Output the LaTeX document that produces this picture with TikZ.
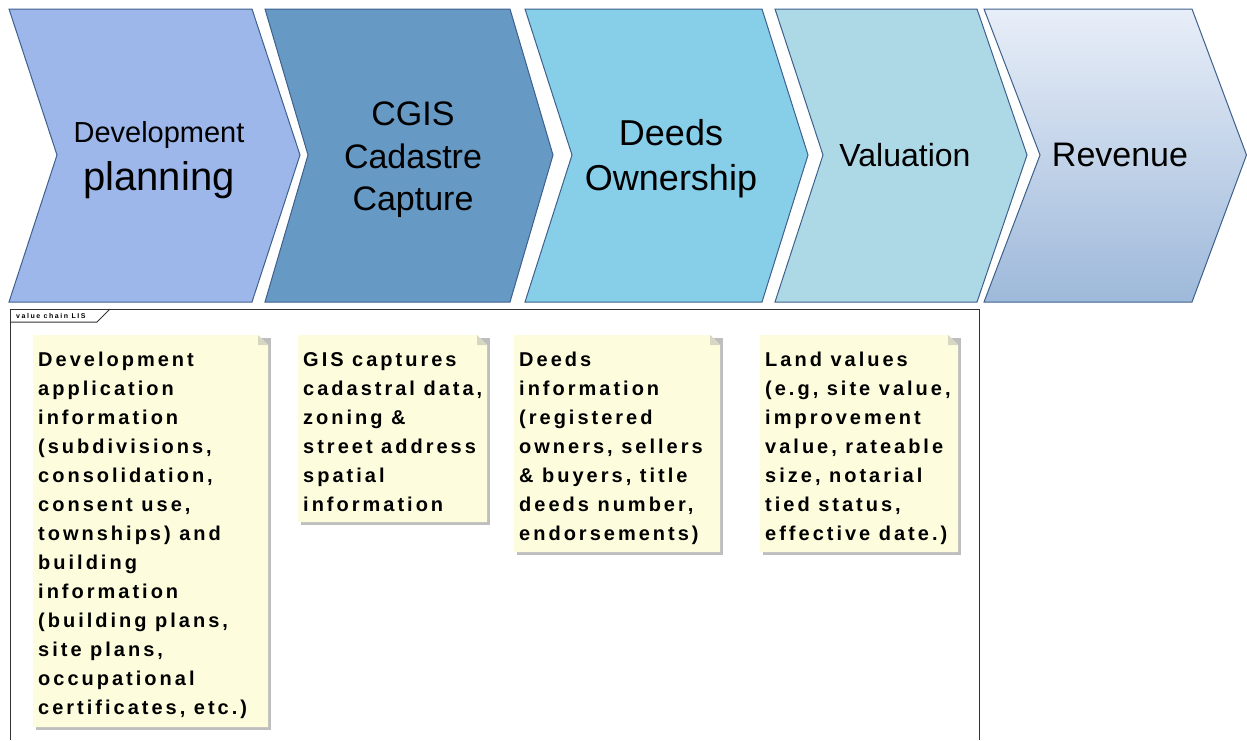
\documentclass[tikz,border=0pt]{standalone}
\usepackage{fontspec}
\setmainfont{Liberation Sans}
\newfontfamily\notefont[LetterSpace=15]{Liberation Sans}
\newfontfamily\tabfont[LetterSpace=22]{Liberation Sans}
\usepackage{tikz}
\usetikzlibrary{calc,positioning}

\definecolor{chevline}{RGB}{62,96,140}
\definecolor{chevA}{RGB}{157,183,235}
\definecolor{chevB}{RGB}{102,153,196}
\definecolor{chevC}{RGB}{135,206,233}
\definecolor{chevD}{RGB}{173,216,230}
\definecolor{chevEtop}{RGB}{232,238,248}
\definecolor{chevEbot}{RGB}{158,185,218}
\definecolor{notefill}{RGB}{253,253,222}
\definecolor{notefold}{RGB}{214,214,194}
\definecolor{noteshadow}{RGB}{190,190,190}

\begin{document}
\begin{tikzpicture}[x=1pt,y=-1pt]
\tikzstyle{chev} = [draw=chevline, line width=1pt, line join=miter];
\tikzstyle{chevtext} = [align=center, inner sep=0pt, text=black];
\tikzstyle{notetext} = [anchor=north west, align=left, inner sep=0pt,
  font=\notefont\bfseries\fontsize{20}{29}\selectfont];
\useasboundingbox (0,0) rectangle (1247,740);

% value chain
\draw[chev, fill=chevA] (9,9) -- (252,9) -- (300,155) -- (252,302) -- (9,302) -- (57,155) -- cycle;
\draw[chev, fill=chevB] (265,9) -- (510,9) -- (553,155) -- (510,302) -- (265,302) -- (308,155) -- cycle;
\draw[chev, fill=chevC] (525,9) -- (762,9) -- (808,155) -- (762,302) -- (525,302) -- (572,155) -- cycle;
\draw[chev, fill=chevD] (775,9) -- (977,9) -- (1027,155) -- (977,302) -- (775,302) -- (823,155) -- cycle;
\draw[chev, top color=chevEtop, bottom color=chevEbot] (984,9) -- (1192,9) -- (1246.5,155) -- (1192,302) -- (984,302) -- (1040,155) -- cycle;

\node[chevtext, font=\fontsize{40}{48}\selectfont] (plan) at (159,160)
  {{\fontsize{29}{34}\selectfont Development}\\planning};
\node[chevtext, font=\fontsize{34}{42.5}\selectfont] (cgis) at (413,160) {CGIS\\Cadastre\\Capture};
\node[chevtext, font=\fontsize{36}{45}\selectfont] (deeds) at (671,159) {Deeds\\Ownership};
\node[chevtext, font=\fontsize{32}{38}\selectfont] (val) at (905,155) {Valuation};
\node[chevtext, font=\fontsize{34}{40}\selectfont] (rev) at (1120,155) {Revenue};

% frame
\draw[black!80, line width=1pt] (10,740) -- (10,309) -- (979,309) -- (979,740);
\draw[black!80, line width=1pt] (10,322) -- (97,322) -- (110,309);
\node[anchor=west, inner sep=0pt, font=\tabfont\bfseries\fontsize{7}{8}\selectfont] (tab) at (16,315.5) {value chain LIS};

% notes
\fill[noteshadow] (36,338) rectangle (271,730);
\fill[notefill] (33,335) -- (258,335) -- (268,345) -- (268,727) -- (33,727) -- cycle;
\fill[notefold] (258,335) -- (268,345) -- (258,345) -- cycle;

\fill[noteshadow] (301,338) rectangle (490,525);
\fill[notefill] (298,335) -- (477,335) -- (487,345) -- (487,522) -- (298,522) -- cycle;
\fill[notefold] (477,335) -- (487,345) -- (477,345) -- cycle;

\fill[noteshadow] (517,338) rectangle (723,555);
\fill[notefill] (514,335) -- (710,335) -- (720,345) -- (720,552) -- (514,552) -- cycle;
\fill[notefold] (710,335) -- (720,345) -- (710,345) -- cycle;

\fill[noteshadow] (763,338) rectangle (961,555);
\fill[notefill] (760,335) -- (948,335) -- (958,345) -- (958,552) -- (760,552) -- cycle;
\fill[notefold] (948,335) -- (958,345) -- (948,345) -- cycle;

\node[notetext] (devinfo) at (38,352) {Development\\application\\information\\(subdivisions,\\consolidation,\\consent use,\\townships) and\\building\\information\\(building plans,\\site plans,\\occupational\\certificates, etc.)};
\node[notetext] (gisinfo) at (303,352) {GIS captures\\cadastral data,\\zoning \&\\street address\\spatial\\information};
\node[notetext] (deedinfo) at (519,352) {Deeds\\information\\(registered\\owners, sellers\\\& buyers, title\\deeds number,\\endorsements)};
\node[notetext] (landinfo) at (765,352) {Land values\\(e.g, site value,\\improvement\\value, rateable\\size, notarial\\tied status,\\effective date.)};
\end{tikzpicture}
\end{document}
